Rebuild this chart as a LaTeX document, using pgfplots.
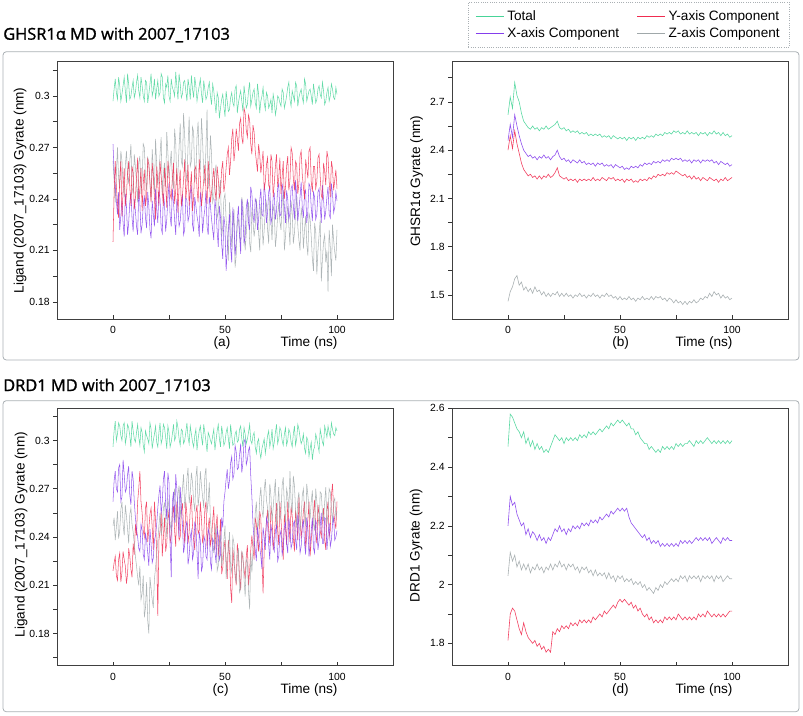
\documentclass[border=0pt]{standalone}
\usepackage{pgfplots}
\pgfplotsset{compat=1.18}
\usepackage{pgfplotstable}
\usepackage{fontspec}
\setmainfont{Liberation Sans}
\newfontfamily\titlefont[FakeBold=1.2]{Open Sans}
\definecolor{cT}{RGB}{72,212,152}
\definecolor{cX}{RGB}{132,62,236}
\definecolor{cY}{RGB}{240,44,80}
\definecolor{cZ}{RGB}{160,168,170}
\definecolor{frame}{RGB}{170,176,180}

\pgfplotstableread{
t T X Y Z
0 0.297 0.272 0.215 0.262
0.5 0.304 0.255 0.244 0.251
1 0.310 0.248 0.262 0.238
1.5 0.302 0.239 0.247 0.255
2 0.298 0.231 0.238 0.270
2.5 0.311 0.244 0.229 0.252
3 0.306 0.222 0.251 0.246
3.5 0.297 0.230 0.262 0.268
4 0.301 0.239 0.230 0.262
4.5 0.306 0.226 0.245 0.248
5 0.311 0.218 0.258 0.241
5.5 0.303 0.243 0.236 0.259
6 0.296 0.236 0.242 0.268
6.5 0.313 0.219 0.255 0.254
7 0.307 0.226 0.262 0.249
7.5 0.298 0.238 0.247 0.262
8 0.300 0.244 0.236 0.272
8.5 0.305 0.229 0.259 0.247
9 0.309 0.221 0.255 0.243
9.5 0.299 0.240 0.234 0.266
10 0.302 0.233 0.240 0.259
10.5 0.308 0.224 0.253 0.249
11 0.312 0.219 0.264 0.238
11.5 0.303 0.245 0.240 0.261
12 0.299 0.238 0.246 0.265
12.5 0.311 0.220 0.258 0.243
13 0.306 0.225 0.233 0.251
13.5 0.300 0.236 0.249 0.272
14 0.297 0.242 0.257 0.270
14.5 0.309 0.229 0.236 0.253
15 0.308 0.223 0.241 0.245
15.5 0.296 0.244 0.263 0.264
16 0.301 0.236 0.260 0.262
16.5 0.307 0.222 0.249 0.250
17 0.313 0.217 0.238 0.239
17.5 0.300 0.239 0.261 0.269
18 0.303 0.231 0.253 0.257
18.5 0.310 0.224 0.241 0.244
19 0.298 0.246 0.228 0.275
19.5 0.304 0.234 0.259 0.260
20 0.309 0.226 0.249 0.248
20.5 0.300 0.245 0.236 0.254
21 0.302 0.240 0.262 0.266
21.5 0.313 0.223 0.253 0.276
22 0.311 0.220 0.244 0.242
22.5 0.299 0.243 0.236 0.255
23 0.296 0.237 0.258 0.261
23.5 0.307 0.221 0.249 0.247
24 0.305 0.228 0.235 0.279
24.5 0.312 0.240 0.262 0.267
25 0.300 0.249 0.255 0.252
25.5 0.297 0.230 0.243 0.260
26 0.310 0.224 0.240 0.268
26.5 0.305 0.246 0.252 0.251
27 0.303 0.238 0.261 0.246
27.5 0.300 0.228 0.237 0.281
28 0.314 0.219 0.245 0.273
28.5 0.306 0.240 0.258 0.248
29 0.298 0.235 0.232 0.255
29.5 0.313 0.224 0.247 0.270
30 0.307 0.227 0.257 0.284
30.5 0.299 0.236 0.236 0.262
31 0.301 0.243 0.242 0.259
31.5 0.308 0.219 0.251 0.290
32 0.309 0.222 0.263 0.277
32.5 0.303 0.241 0.240 0.256
33 0.297 0.239 0.247 0.250
33.5 0.310 0.227 0.260 0.271
34 0.305 0.230 0.236 0.288
34.5 0.298 0.244 0.246 0.259
35 0.312 0.247 0.256 0.262
35.5 0.304 0.225 0.233 0.282
36 0.299 0.221 0.241 0.279
36.5 0.311 0.241 0.257 0.250
37 0.306 0.236 0.259 0.254
37.5 0.297 0.230 0.246 0.276
38 0.302 0.226 0.238 0.285
38.5 0.306 0.218 0.263 0.261
39 0.310 0.244 0.252 0.258
39.5 0.301 0.237 0.236 0.287
40 0.296 0.220 0.243 0.274
40.5 0.309 0.229 0.251 0.255
41 0.304 0.234 0.260 0.249
41.5 0.298 0.245 0.245 0.270
42 0.300 0.224 0.237 0.292
42.5 0.305 0.219 0.262 0.246
43 0.308 0.241 0.254 0.257
43.5 0.300 0.236 0.238 0.277
44 0.295 0.228 0.244 0.266
44.5 0.307 0.222 0.251 0.238
45 0.303 0.216 0.258 0.241
45.5 0.296 0.240 0.246 0.255
46 0.290 0.233 0.239 0.260
46.5 0.302 0.221 0.259 0.229
47 0.299 0.212 0.252 0.232
47.5 0.287 0.236 0.241 0.246
48 0.293 0.229 0.244 0.251
48.5 0.298 0.214 0.257 0.218
49 0.301 0.205 0.262 0.224
49.5 0.294 0.230 0.244 0.240
50 0.288 0.224 0.249 0.243
50.5 0.303 0.198 0.258 0.228
51 0.297 0.210 0.266 0.219
51.5 0.291 0.222 0.270 0.204
52 0.292 0.231 0.254 0.238
52.5 0.299 0.212 0.262 0.229
53 0.302 0.203 0.275 0.212
53.5 0.296 0.235 0.281 0.222
54 0.294 0.226 0.262 0.234
54.5 0.304 0.207 0.269 0.200
55 0.306 0.215 0.281 0.207
55.5 0.290 0.228 0.275 0.226
56 0.296 0.236 0.268 0.228
56.5 0.300 0.219 0.284 0.218
57 0.303 0.208 0.287 0.215
57.5 0.297 0.240 0.276 0.241
58 0.291 0.229 0.272 0.236
58.5 0.306 0.214 0.293 0.224
59 0.300 0.218 0.290 0.210
59.5 0.293 0.235 0.280 0.220
60 0.295 0.240 0.276 0.231
60.5 0.303 0.226 0.289 0.238
61 0.308 0.222 0.286 0.214
61.5 0.294 0.247 0.272 0.209
62 0.298 0.243 0.266 0.235
62.5 0.302 0.231 0.283 0.227
63 0.304 0.226 0.279 0.218
63.5 0.296 0.240 0.268 0.224
64 0.293 0.238 0.262 0.240
64.5 0.307 0.222 0.256 0.231
65 0.301 0.228 0.272 0.220
65.5 0.290 0.239 0.266 0.210
66 0.297 0.246 0.255 0.237
66.5 0.300 0.231 0.261 0.229
67 0.305 0.230 0.268 0.213
67.5 0.296 0.249 0.245 0.222
68 0.292 0.242 0.250 0.234
68.5 0.302 0.226 0.260 0.238
69 0.300 0.232 0.264 0.222
69.5 0.293 0.244 0.248 0.214
70 0.295 0.247 0.246 0.241
70.5 0.298 0.226 0.266 0.228
71 0.290 0.229 0.262 0.216
71.5 0.301 0.241 0.241 0.236
72 0.297 0.243 0.249 0.233
72.5 0.289 0.228 0.259 0.212
73 0.293 0.233 0.266 0.219
73.5 0.300 0.246 0.247 0.230
74 0.299 0.249 0.252 0.238
74.5 0.296 0.230 0.264 0.227
75 0.294 0.231 0.243 0.222
75.5 0.304 0.249 0.253 0.238
76 0.302 0.244 0.262 0.245
76.5 0.293 0.236 0.240 0.210
77 0.296 0.226 0.247 0.218
77.5 0.300 0.245 0.259 0.229
78 0.305 0.240 0.265 0.236
78.5 0.308 0.228 0.245 0.225
79 0.298 0.232 0.251 0.213
79.5 0.294 0.246 0.270 0.239
80 0.303 0.248 0.267 0.232
80.5 0.300 0.236 0.252 0.214
81 0.297 0.228 0.245 0.220
81.5 0.308 0.251 0.262 0.231
82 0.306 0.242 0.260 0.242
82.5 0.294 0.227 0.243 0.224
83 0.299 0.234 0.249 0.216
83.5 0.302 0.241 0.265 0.210
84 0.304 0.250 0.268 0.235
84.5 0.299 0.235 0.254 0.229
85 0.296 0.229 0.247 0.211
85.5 0.310 0.243 0.240 0.222
86 0.307 0.245 0.263 0.230
86.5 0.297 0.226 0.258 0.214
87 0.300 0.233 0.252 0.207
87.5 0.303 0.249 0.268 0.232
88 0.304 0.247 0.270 0.228
88.5 0.300 0.235 0.250 0.218
89 0.295 0.227 0.244 0.205
89.5 0.307 0.244 0.259 0.198
90 0.302 0.241 0.259 0.226
90.5 0.296 0.228 0.246 0.221
91 0.298 0.231 0.250 0.196
91.5 0.304 0.244 0.264 0.210
92 0.306 0.246 0.266 0.219
92.5 0.301 0.236 0.253 0.228
93 0.299 0.226 0.242 0.192
93.5 0.308 0.248 0.240 0.205
94 0.303 0.240 0.261 0.215
94.5 0.295 0.228 0.256 0.219
95 0.297 0.233 0.248 0.203
95.5 0.302 0.241 0.268 0.210
96 0.305 0.247 0.264 0.186
96.5 0.297 0.231 0.250 0.222
97 0.300 0.229 0.241 0.212
97.5 0.307 0.249 0.262 0.195
98 0.304 0.243 0.258 0.225
98.5 0.299 0.232 0.245 0.216
99 0.298 0.235 0.251 0.209
99.5 0.305 0.244 0.257 0.204
100 0.301 0.239 0.246 0.222
}\tabA

\pgfplotstableread{
t T X Y Z
0 2.62 2.46 2.40 1.46
1 2.73 2.56 2.49 1.52
2 2.66 2.48 2.41 1.55
3 2.82 2.62 2.52 1.60
4 2.74 2.55 2.44 1.62
5 2.70 2.49 2.38 1.56
6 2.63 2.44 2.32 1.58
7 2.58 2.40 2.28 1.53
8 2.56 2.38 2.26 1.55
9 2.54 2.36 2.24 1.52
10 2.53 2.37 2.25 1.54
11 2.55 2.35 2.23 1.51
12 2.53 2.36 2.24 1.55
13 2.54 2.34 2.22 1.52
14 2.52 2.36 2.24 1.53
15 2.54 2.35 2.22 1.50
16 2.53 2.37 2.24 1.52
17 2.55 2.35 2.23 1.49
18 2.53 2.36 2.25 1.51
19 2.54 2.34 2.23 1.49
20 2.55 2.36 2.24 1.51
21 2.56 2.37 2.26 1.50
22 2.58 2.40 2.29 1.52
23 2.54 2.36 2.24 1.49
24 2.53 2.34 2.23 1.51
25 2.54 2.35 2.22 1.49
26 2.52 2.33 2.23 1.51
27 2.53 2.34 2.21 1.49
28 2.51 2.32 2.22 1.50
29 2.52 2.34 2.21 1.48
30 2.51 2.33 2.22 1.50
31 2.52 2.32 2.20 1.49
32 2.50 2.34 2.22 1.51
33 2.51 2.32 2.21 1.49
34 2.50 2.33 2.22 1.50
35 2.51 2.31 2.21 1.48
36 2.49 2.32 2.22 1.50
37 2.50 2.31 2.21 1.49
38 2.49 2.32 2.23 1.51
39 2.50 2.30 2.21 1.49
40 2.49 2.32 2.22 1.50
41 2.50 2.31 2.21 1.48
42 2.48 2.32 2.23 1.50
43 2.49 2.30 2.22 1.49
44 2.48 2.31 2.21 1.51
45 2.49 2.30 2.23 1.49
46 2.47 2.31 2.22 1.50
47 2.49 2.29 2.23 1.48
48 2.48 2.31 2.21 1.49
49 2.47 2.30 2.22 1.47
50 2.48 2.29 2.21 1.49
51 2.47 2.30 2.22 1.47
52 2.48 2.28 2.20 1.48
53 2.46 2.29 2.22 1.47
54 2.48 2.28 2.21 1.49
55 2.47 2.30 2.22 1.47
56 2.48 2.29 2.20 1.48
57 2.46 2.30 2.21 1.46
58 2.48 2.29 2.20 1.48
59 2.47 2.31 2.22 1.47
60 2.48 2.30 2.21 1.49
61 2.47 2.32 2.22 1.47
62 2.49 2.31 2.21 1.48
63 2.48 2.32 2.23 1.47
64 2.49 2.31 2.22 1.49
65 2.48 2.33 2.24 1.47
66 2.50 2.32 2.23 1.49
67 2.49 2.33 2.25 1.48
68 2.50 2.32 2.24 1.49
69 2.49 2.34 2.25 1.47
70 2.51 2.33 2.24 1.48
71 2.50 2.34 2.26 1.46
72 2.51 2.33 2.25 1.48
73 2.50 2.35 2.26 1.47
74 2.52 2.34 2.25 1.45
75 2.51 2.35 2.27 1.47
76 2.52 2.34 2.26 1.45
77 2.50 2.35 2.25 1.46
78 2.51 2.33 2.24 1.44
79 2.50 2.34 2.25 1.46
80 2.52 2.33 2.23 1.44
81 2.50 2.34 2.24 1.46
82 2.51 2.32 2.22 1.45
83 2.50 2.34 2.24 1.47
84 2.51 2.33 2.22 1.45
85 2.49 2.34 2.23 1.46
86 2.51 2.32 2.21 1.48
87 2.50 2.34 2.23 1.47
88 2.51 2.33 2.22 1.49
89 2.49 2.34 2.21 1.48
90 2.51 2.33 2.23 1.51
91 2.50 2.34 2.22 1.49
92 2.52 2.32 2.21 1.52
93 2.50 2.33 2.22 1.50
94 2.51 2.31 2.20 1.51
95 2.49 2.33 2.22 1.48
96 2.51 2.32 2.21 1.50
97 2.49 2.31 2.23 1.48
98 2.50 2.32 2.21 1.49
99 2.48 2.30 2.22 1.47
100 2.49 2.31 2.23 1.48
}\tabB

\pgfplotstableread{
t T X Y Z
0 0.296 0.262 0.219 0.247
0.5 0.306 0.275 0.224 0.252
1 0.312 0.281 0.228 0.238
1.5 0.300 0.270 0.216 0.246
2 0.304 0.268 0.213 0.256
2.5 0.311 0.283 0.226 0.239
3 0.309 0.285 0.230 0.244
3.5 0.303 0.262 0.212 0.257
4 0.300 0.265 0.218 0.262
4.5 0.309 0.288 0.231 0.248
5 0.311 0.279 0.226 0.241
5.5 0.298 0.268 0.222 0.260
6 0.302 0.270 0.211 0.253
6.5 0.310 0.279 0.217 0.245
7 0.308 0.284 0.233 0.236
7.5 0.303 0.266 0.228 0.254
8 0.296 0.260 0.220 0.258
8.5 0.312 0.281 0.215 0.248
9 0.306 0.276 0.236 0.243
9.5 0.301 0.262 0.229 0.236
10 0.299 0.252 0.248 0.228
10.5 0.305 0.245 0.241 0.222
11 0.310 0.240 0.262 0.215
11.5 0.302 0.233 0.270 0.210
12 0.297 0.231 0.281 0.222
12.5 0.308 0.248 0.262 0.201
13 0.305 0.244 0.255 0.205
13.5 0.297 0.229 0.244 0.216
14 0.293 0.226 0.240 0.190
14.5 0.306 0.242 0.258 0.196
15 0.303 0.238 0.262 0.212
15.5 0.301 0.230 0.237 0.188
16 0.298 0.222 0.245 0.180
16.5 0.311 0.245 0.254 0.215
17 0.307 0.236 0.258 0.208
17.5 0.295 0.224 0.246 0.201
18 0.300 0.227 0.232 0.196
18.5 0.304 0.238 0.262 0.214
19 0.309 0.241 0.250 0.221
19.5 0.299 0.248 0.230 0.229
20 0.296 0.258 0.191 0.238
20.5 0.305 0.266 0.238 0.247
21 0.311 0.272 0.244 0.255
21.5 0.298 0.254 0.256 0.241
22 0.301 0.262 0.228 0.246
22.5 0.310 0.276 0.240 0.258
23 0.308 0.281 0.252 0.261
23.5 0.302 0.260 0.231 0.250
24 0.295 0.251 0.236 0.240
24.5 0.309 0.280 0.250 0.264
25 0.305 0.274 0.257 0.258
25.5 0.296 0.236 0.236 0.248
26 0.299 0.215 0.241 0.244
26.5 0.304 0.262 0.254 0.257
27 0.310 0.268 0.259 0.263
27.5 0.300 0.249 0.244 0.270
28 0.302 0.279 0.234 0.249
28.5 0.312 0.270 0.262 0.255
29 0.308 0.256 0.253 0.266
29.5 0.301 0.240 0.238 0.272
30 0.297 0.271 0.240 0.252
30.5 0.307 0.258 0.256 0.261
31 0.306 0.248 0.261 0.270
31.5 0.298 0.230 0.246 0.279
32 0.300 0.235 0.236 0.258
32.5 0.305 0.246 0.262 0.265
33 0.311 0.250 0.254 0.276
33.5 0.302 0.223 0.236 0.283
34 0.298 0.228 0.243 0.261
34.5 0.309 0.240 0.258 0.268
35 0.304 0.244 0.266 0.280
35.5 0.299 0.226 0.247 0.274
36 0.296 0.230 0.238 0.262
36.5 0.303 0.249 0.232 0.256
37 0.307 0.247 0.255 0.277
37.5 0.294 0.231 0.260 0.284
38 0.301 0.214 0.242 0.259
38.5 0.306 0.243 0.244 0.266
39 0.309 0.238 0.262 0.281
39.5 0.302 0.219 0.251 0.272
40 0.297 0.222 0.236 0.265
40.5 0.310 0.237 0.241 0.258
41 0.305 0.240 0.257 0.278
41.5 0.299 0.228 0.262 0.283
42 0.293 0.226 0.233 0.255
42.5 0.305 0.245 0.246 0.262
43 0.303 0.242 0.252 0.274
43.5 0.300 0.224 0.235 0.250
44 0.298 0.220 0.239 0.244
44.5 0.303 0.239 0.250 0.236
45 0.307 0.237 0.259 0.230
45.5 0.294 0.231 0.232 0.241
46 0.300 0.224 0.246 0.248
46.5 0.306 0.245 0.254 0.219
47 0.310 0.241 0.228 0.222
47.5 0.301 0.226 0.236 0.236
48 0.296 0.229 0.251 0.241
48.5 0.309 0.252 0.217 0.222
49 0.304 0.246 0.221 0.228
49.5 0.297 0.262 0.232 0.238
50 0.299 0.268 0.238 0.247
50.5 0.305 0.276 0.226 0.214
51 0.308 0.282 0.214 0.226
51.5 0.301 0.270 0.238 0.232
52 0.295 0.275 0.230 0.243
52.5 0.310 0.286 0.208 0.222
53 0.303 0.290 0.199 0.218
53.5 0.297 0.276 0.233 0.240
54 0.298 0.279 0.224 0.236
54.5 0.304 0.297 0.218 0.215
55 0.306 0.293 0.210 0.212
55.5 0.299 0.282 0.236 0.226
56 0.300 0.283 0.229 0.233
56.5 0.307 0.291 0.215 0.205
57 0.309 0.298 0.207 0.209
57.5 0.301 0.280 0.231 0.231
58 0.296 0.286 0.226 0.229
58.5 0.308 0.299 0.220 0.214
59 0.304 0.301 0.214 0.203
59.5 0.298 0.285 0.228 0.226
60 0.301 0.288 0.235 0.224
60.5 0.305 0.294 0.210 0.206
61 0.310 0.296 0.219 0.195
61.5 0.300 0.278 0.232 0.230
62 0.298 0.265 0.241 0.218
62.5 0.303 0.248 0.233 0.232
63 0.305 0.238 0.226 0.240
63.5 0.296 0.232 0.252 0.255
64 0.292 0.225 0.248 0.262
64.5 0.299 0.246 0.238 0.245
65 0.301 0.240 0.231 0.248
65.5 0.293 0.234 0.256 0.264
66 0.289 0.228 0.252 0.271
66.5 0.295 0.220 0.226 0.257
67 0.298 0.246 0.205 0.252
67.5 0.301 0.240 0.232 0.269
68 0.292 0.232 0.240 0.276
68.5 0.297 0.252 0.249 0.263
69 0.303 0.249 0.257 0.258
69.5 0.306 0.235 0.244 0.249
70 0.296 0.226 0.236 0.273
70.5 0.300 0.248 0.258 0.266
71 0.307 0.242 0.254 0.250
71.5 0.295 0.234 0.232 0.258
72 0.299 0.231 0.240 0.268
72.5 0.305 0.244 0.251 0.276
73 0.310 0.247 0.261 0.245
73.5 0.298 0.225 0.244 0.259
74 0.301 0.228 0.235 0.271
74.5 0.308 0.241 0.262 0.250
75 0.306 0.244 0.251 0.254
75.5 0.300 0.229 0.238 0.272
76 0.297 0.233 0.226 0.277
76.5 0.304 0.246 0.254 0.260
77 0.308 0.249 0.246 0.249
77.5 0.297 0.236 0.235 0.270
78 0.300 0.230 0.262 0.266
78.5 0.307 0.252 0.249 0.255
79 0.305 0.245 0.237 0.281
79.5 0.299 0.233 0.259 0.262
80 0.296 0.236 0.253 0.255
80.5 0.304 0.248 0.240 0.278
81 0.309 0.250 0.231 0.272
81.5 0.297 0.238 0.257 0.257
82 0.301 0.232 0.249 0.246
82.5 0.310 0.254 0.238 0.263
83 0.307 0.247 0.265 0.268
83.5 0.302 0.230 0.252 0.244
84 0.298 0.234 0.239 0.252
84.5 0.300 0.246 0.247 0.266
85 0.304 0.251 0.256 0.270
85.5 0.295 0.236 0.262 0.256
86 0.292 0.229 0.233 0.247
86.5 0.302 0.252 0.241 0.273
87 0.300 0.246 0.251 0.266
87.5 0.290 0.228 0.262 0.258
88 0.295 0.235 0.228 0.251
88.5 0.299 0.244 0.238 0.262
89 0.288 0.252 0.247 0.269
89.5 0.294 0.233 0.255 0.248
90 0.296 0.230 0.263 0.244
90.5 0.304 0.250 0.243 0.270
91 0.301 0.248 0.236 0.262
91.5 0.297 0.232 0.260 0.253
92 0.293 0.238 0.254 0.247
92.5 0.307 0.247 0.244 0.268
93 0.303 0.255 0.240 0.267
93.5 0.299 0.236 0.250 0.255
94 0.297 0.236 0.258 0.250
94.5 0.309 0.252 0.238 0.262
95 0.306 0.251 0.232 0.271
95.5 0.302 0.232 0.256 0.248
96 0.309 0.241 0.262 0.254
96.5 0.305 0.249 0.240 0.270
97 0.302 0.234 0.244 0.268
97.5 0.311 0.238 0.266 0.258
98 0.307 0.248 0.273 0.249
98.5 0.304 0.252 0.256 0.262
99 0.303 0.238 0.250 0.264
99.5 0.308 0.240 0.245 0.252
100 0.306 0.244 0.262 0.256
}\tabC

\pgfplotstableread{
t T X Y Z
0 2.47 2.20 1.81 2.03
1 2.58 2.30 1.90 2.11
2 2.57 2.27 1.92 2.08
3 2.55 2.28 1.91 2.10
4 2.53 2.24 1.88 2.06
5 2.52 2.22 1.85 2.08
6 2.50 2.20 1.83 2.05
7 2.52 2.21 1.87 2.07
8 2.48 2.17 1.84 2.05
9 2.50 2.19 1.82 2.07
10 2.47 2.16 1.81 2.04
11 2.49 2.18 1.80 2.06
12 2.46 2.17 1.81 2.05
13 2.48 2.15 1.79 2.07
14 2.46 2.17 1.80 2.05
15 2.47 2.15 1.78 2.06
16 2.45 2.16 1.79 2.04
17 2.46 2.14 1.77 2.06
18 2.45 2.16 1.78 2.05
19 2.47 2.15 1.77 2.07
20 2.49 2.17 1.84 2.05
21 2.51 2.19 1.83 2.07
22 2.50 2.18 1.85 2.06
23 2.49 2.20 1.84 2.08
24 2.50 2.18 1.86 2.06
25 2.48 2.19 1.85 2.07
26 2.50 2.17 1.86 2.05
27 2.49 2.19 1.85 2.07
28 2.50 2.18 1.87 2.06
29 2.49 2.20 1.86 2.07
30 2.50 2.19 1.87 2.05
31 2.49 2.20 1.86 2.06
32 2.51 2.19 1.88 2.04
33 2.50 2.21 1.87 2.06
34 2.51 2.20 1.88 2.05
35 2.50 2.21 1.87 2.06
36 2.52 2.20 1.88 2.04
37 2.51 2.22 1.87 2.05
38 2.52 2.21 1.89 2.03
39 2.51 2.22 1.88 2.05
40 2.52 2.21 1.89 2.03
41 2.53 2.23 1.90 2.04
42 2.52 2.22 1.89 2.03
43 2.53 2.23 1.91 2.04
44 2.54 2.24 1.90 2.02
45 2.53 2.23 1.91 2.04
46 2.55 2.25 1.92 2.02
47 2.54 2.24 1.93 2.03
48 2.55 2.25 1.92 2.01
49 2.56 2.26 1.94 2.03
50 2.55 2.25 1.95 2.02
51 2.56 2.26 1.94 2.03
52 2.55 2.25 1.95 2.01
53 2.54 2.26 1.94 2.02
54 2.55 2.23 1.93 2.01
55 2.53 2.21 1.94 2.02
56 2.53 2.20 1.92 2.00
57 2.51 2.19 1.93 2.01
58 2.52 2.18 1.91 2.00
59 2.50 2.17 1.92 2.01
60 2.49 2.16 1.90 1.99
61 2.48 2.17 1.89 2.00
62 2.48 2.15 1.90 1.98
63 2.46 2.16 1.88 1.99
64 2.47 2.14 1.89 1.98
65 2.46 2.15 1.87 1.97
66 2.45 2.14 1.88 1.99
67 2.46 2.15 1.87 1.98
68 2.45 2.13 1.88 2.00
69 2.47 2.14 1.87 1.99
70 2.46 2.13 1.89 2.01
71 2.47 2.14 1.88 2.00
72 2.46 2.13 1.89 2.01
73 2.47 2.14 1.88 2.02
74 2.46 2.13 1.89 2.01
75 2.48 2.14 1.88 2.02
76 2.47 2.13 1.90 2.01
77 2.48 2.15 1.89 2.03
78 2.47 2.14 1.88 2.02
79 2.48 2.15 1.89 2.03
80 2.48 2.14 1.88 2.01
81 2.49 2.15 1.89 2.03
82 2.48 2.14 1.88 2.02
83 2.47 2.15 1.89 2.03
84 2.49 2.16 1.88 2.02
85 2.48 2.15 1.90 2.03
86 2.49 2.16 1.89 2.01
87 2.48 2.15 1.90 2.03
88 2.49 2.16 1.89 2.02
89 2.50 2.15 1.91 2.03
90 2.49 2.16 1.90 2.02
91 2.48 2.14 1.89 2.03
92 2.49 2.15 1.90 2.01
93 2.48 2.16 1.89 2.03
94 2.49 2.15 1.90 2.02
95 2.48 2.14 1.89 2.03
96 2.49 2.16 1.90 2.01
97 2.48 2.15 1.89 2.02
98 2.49 2.16 1.90 2.03
99 2.48 2.15 1.91 2.02
100 2.49 2.15 1.91 2.02
}\tabD

\pgfplotsset{
  panel/.style={
    scale only axis, width=252pt,
    xmin=-25, xmax=125,
    xtick={0,50,100}, xticklabels={0,50,100},
    minor xtick={25,75},
    tick pos=left, tick align=inside,
    major tick length=3pt, minor tick length=3pt,
    every tick/.style={black!80, line width=0.5pt},
    ytick style={xshift=-3pt},
    tick label style={font=\fontsize{7.8}{9}\selectfont},
    yticklabel style={xshift=-2pt},
    xticklabel style={yshift=-2pt},
    axis line style={black!75, line width=0.6pt},
    label style={font=\fontsize{10.2}{12}\selectfont},
    xlabel={Time (ns)},
    xlabel style={at={([yshift=-18pt]axis description cs:0.75,0)}, anchor=center},
    clip mode=individual,
  },
  ser/.style={line width=0.45pt, opacity=0.9},
  sern/.style={line width=0.4pt, opacity=0.85},
}

\begin{document}
\begin{tikzpicture}
\path[use as bounding box] (0pt,0pt) rectangle (602.25pt,-537pt);
% section frames
\draw[frame, line width=0.6pt, rounded corners=2.5pt] (2.25pt,-38.8pt) rectangle (599.25pt,-270pt);
\draw[frame, line width=0.6pt, rounded corners=2.5pt] (2.25pt,-300.5pt) rectangle (599.25pt,-533.8pt);
% titles
\node[anchor=base west, inner sep=0pt, font=\titlefont\fontsize{12.3}{14}\selectfont] at (2.25pt,-29.8pt) {GHSR1α MD with 2007\_17103};
\node[anchor=base west, inner sep=0pt, font=\titlefont\fontsize{12.3}{14}\selectfont] at (2.25pt,-293.3pt) {DRD1 MD with 2007\_17103};

% (a)
\begin{axis}[panel, at={(42.75pt,-239.25pt)}, anchor=south west, height=192.98pt,
  ymin=0.17, ymax=0.32,
  ytick={0.18,0.21,0.24,0.27,0.3}, yticklabels={0.18,0.21,0.24,0.27,0.3},
  minor ytick={0.195,0.225,0.255,0.285,0.315},
  ylabel={Ligand (2007\_17103) Gyrate (nm)},
  ylabel style={at={([xshift=-27.75pt]axis description cs:0,0.5)}, anchor=center},
]
\addplot[sern, cZ] table[x=t, y=Z] {\tabA};
\addplot[sern, cX] table[x=t, y=X] {\tabA};
\addplot[sern, cY] table[x=t, y=Y] {\tabA};
\addplot[sern, cT] table[x=t, y=T] {\tabA};
\node[font=\fontsize{10.2}{12}\selectfont] at ([yshift=-18pt]axis description cs:0.491,0) {(a)};
\end{axis}

% (b)
\begin{axis}[panel, at={(339pt,-239.25pt)}, anchor=south west, height=192.98pt,
  ymin=1.35, ymax=2.95,
  ytick={1.5,1.8,2.1,2.4,2.7}, yticklabels={1.5,1.8,2.1,2.4,2.7},
  minor ytick={1.65,1.95,2.25,2.55,2.85},
  ylabel={GHSR1α Gyrate (nm)},
  ylabel style={at={([xshift=-26.5pt]axis description cs:0,0.536)}, anchor=center},
  legend columns=2,
  legend cell align=left,
  legend style={at={(axis description cs:0.0476,1.232)}, anchor=north west,
    draw=frame, densely dotted, line width=0.7pt, fill=white,
    font=\fontsize{10.2}{11}\selectfont, inner xsep=5pt, inner ysep=4pt,
    row sep=0pt,
    /tikz/every even column/.append style={column sep=11pt}},
  legend image code/.code={\draw[#1, solid, line width=1.1pt] (0pt,0pt) -- (21pt,0pt);},
]
\addlegendimage{draw=cT}\addlegendentry{Total}
\addlegendimage{draw=cY}\addlegendentry{Y-axis Component}
\addlegendimage{draw=cX}\addlegendentry{X-axis Component}
\addlegendimage{draw=cZ}\addlegendentry{Z-axis Component}
\addplot[ser, cZ, forget plot] table[x=t, y=Z] {\tabB};
\addplot[ser, cY, forget plot] table[x=t, y=Y] {\tabB};
\addplot[ser, cX, forget plot] table[x=t, y=X] {\tabB};
\addplot[ser, cT, forget plot] table[x=t, y=T] {\tabB};
\node[font=\fontsize{10.2}{12}\selectfont] at ([yshift=-18pt]axis description cs:0.502,0) {(b)};
\end{axis}

% (c)
\begin{axis}[panel, at={(42.75pt,-499.28pt)}, anchor=south west, height=193.05pt,
  ymin=0.16, ymax=0.32,
  ytick={0.18,0.21,0.24,0.27,0.3}, yticklabels={0.18,0.21,0.24,0.27,0.3},
  minor ytick={0.165,0.195,0.225,0.255,0.285,0.315},
  ylabel={Ligand (2007\_17103) Gyrate (nm)},
  ylabel style={at={([xshift=-27pt]axis description cs:0,0.51)}, anchor=center},
]
\addplot[sern, cY] table[x=t, y=Y] {\tabC};
\addplot[sern, cZ] table[x=t, y=Z] {\tabC};
\addplot[sern, cX] table[x=t, y=X] {\tabC};
\addplot[sern, cT] table[x=t, y=T] {\tabC};
\node[font=\fontsize{10.2}{12}\selectfont] at ([yshift=-18.5pt]axis description cs:0.487,0) {(c)};
\end{axis}

% (d)
\begin{axis}[panel, at={(339pt,-499.28pt)}, anchor=south west, height=193.05pt,
  ymin=1.724, ymax=2.6,
  ytick={1.8,2,2.2,2.4,2.6}, yticklabels={1.8,2,2.2,2.4,2.6},
  minor ytick={1.9,2.1,2.3,2.5},
  ylabel={DRD1 Gyrate (nm)},
  ylabel style={at={([xshift=-27pt]axis description cs:0,0.467)}, anchor=center},
]
\addplot[ser, cZ] table[x=t, y=Z] {\tabD};
\addplot[ser, cY] table[x=t, y=Y] {\tabD};
\addplot[ser, cX] table[x=t, y=X] {\tabD};
\addplot[ser, cT] table[x=t, y=T] {\tabD};
\node[font=\fontsize{10.2}{12}\selectfont] at ([yshift=-18.5pt]axis description cs:0.501,0) {(d)};
\end{axis}
\end{tikzpicture}
\end{document}
